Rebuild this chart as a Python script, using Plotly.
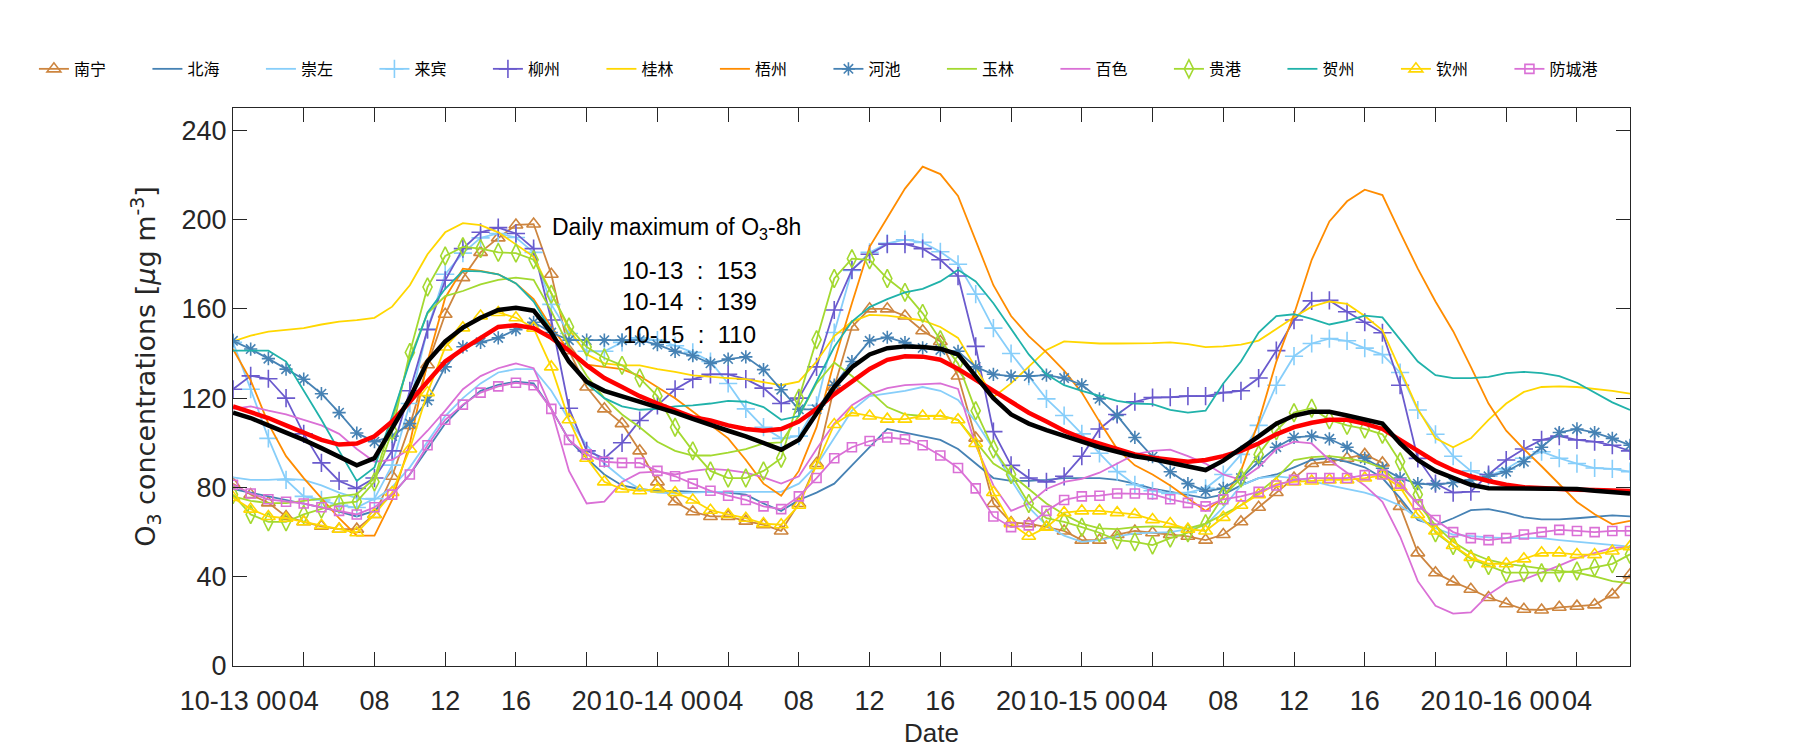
import plotly.graph_objects as go

# ---------------- data ----------------
hours = list(range(80))  # hourly steps starting 10-13 00
tick_hours = [0, 4, 8, 12, 16, 20, 24, 28, 32, 36, 40, 44, 48, 52, 56, 60, 64, 68, 72, 76]
tick_labels = ["10-13 00", "04", "08", "12", "16", "20",
               "10-14 00", "04", "08", "12", "16", "20",
               "10-15 00", "04", "08", "12", "16", "20",
               "10-16 00", "04"]

nanning = [81.7, 76.8, 73.1, 67, 64.6, 62.6, 61.3, 61.3, 67.9, 85, 107.8, 135, 157.6, 174,
           185.3, 191.8, 197.6, 198, 175.5, 141.3, 125, 115.2, 108.6, 96.4, 82.5, 73.6, 69.1,
           67, 67, 64.9, 63.3, 60.5, 72.8, 90.7, 125, 151.9, 160, 160, 156.8, 150.2,
           145.4, 129.9, 102.1, 72.8, 64.3, 63.8, 62.2, 60.5, 56.4, 56.4, 58.9, 60.5, 59.7,
           58.9, 58.1, 56.4, 58.9, 64.6, 71.1, 77.7, 84.2, 90.7, 91.5, 93.1, 94.8, 91,
           71.5, 50.7, 41.8, 37.7, 34.4, 30.7, 27.9, 25.4, 25.1, 26.3, 26.8, 27.4, 32, 40.9]
beihai = [79.3, 77.7, 76, 74.4, 72.8, 71.1, 69.2, 67, 69.5, 76.8, 85.8, 97.2, 108.6, 116.8,
          123.3, 126, 127.4, 126.6, 115.2, 101.3, 93.1, 85.8, 80.9, 79.3, 78.5, 78.5, 78,
          78, 77.7, 76.8, 72.8, 69.5, 74.4, 77.7, 81.7, 89.9, 98, 106.2, 104.6, 103,
          101.3, 97.2, 90.7, 84.2, 82.9, 82.9, 83.4, 84.2, 84.2, 84.2, 83.4, 81.7, 79.5,
          78, 76.8, 75.2, 76.8, 80.9, 84.2, 85.8, 89, 92.3, 93.1, 91.5, 89, 84.2,
          75.2, 65.4, 63, 66.2, 69.8, 70.3, 68.7, 66.6, 65.7, 65.7, 66.2, 67, 67.5, 67]
chongzuo = [84.5, 83.4, 83.4, 83.8, 83.4, 80.9, 77.7, 75.2, 74.4, 80.1, 89, 100.5, 112, 120,
            126.6, 131.5, 133, 133, 123.3, 110.3, 98.9, 90.7, 84.2, 79.3, 77.7, 77.3, 77.7,
            78, 78, 78, 78, 78, 81.7, 89.9, 102.1, 114.4, 120.9, 122, 123.3, 125,
            123.3, 119.2, 109.5, 97.2, 83.4, 71.1, 63, 58.4, 55.6, 56.4, 58.1, 59.4, 59.7,
            60, 61.3, 63, 71.1, 80.9, 84.2, 85, 84.2, 82.9, 80.9, 79.3, 77.7, 75.2,
            71.9, 66.2, 61.7, 58.9, 58.1, 57.6, 57.3, 57.3, 57.3, 56.4, 55.6, 54.8, 54, 53.5]
laibin = [145, 124, 102, 83.4, 76, 74.4, 72, 71, 75, 90, 117.6, 151, 175.5, 185,
          191.8, 193.8, 192, 185.3, 162, 149, 141, 141, 145, 147, 146, 143.5, 140.5,
          136.4, 126.6, 115.2, 107, 102, 103, 116.8, 149.4, 177.2, 185.3, 189.4, 191, 189.8,
          185.6, 180, 166.6, 151.4, 140, 129.9, 119.7, 112.2, 104, 95.3, 87.1, 81.2, 78.5,
          77.3, 77.7, 79.6, 85.8, 94.8, 107.8, 125.8, 138.8, 144.5, 146.7, 145.7, 142.4, 139.5,
          131.5, 114.7, 103.8, 94, 87.4, 85, 88.3, 93.1, 96, 93.1, 90.7, 88.7, 88.3, 87.1]
liuzhou = [124, 130, 128.7, 120, 104, 91, 82.9, 79.6, 84.2, 96.4, 123.3, 150.7, 172.8, 187,
           194.3, 196.4, 193.8, 187, 155, 115.5, 96.4, 93, 100, 110, 116.8, 124, 128.5,
           130.7, 130.7, 128.5, 124.5, 117.6, 120, 134, 159.5, 177.5, 184.5, 189, 189, 187,
           182, 174.7, 143.2, 105, 89.9, 84.2, 82.5, 85, 94, 106.2, 112.7, 118.4, 120.3,
           120.4, 120.9, 120.9, 122.5, 123.3, 129, 141.3, 155, 163.6, 163.8, 158.7, 154, 149.3,
           125.8, 93, 81.7, 77.7, 78.1, 85.8, 92.3, 97.2, 101.3, 103, 101.3, 100.5, 98.9, 96.4]
guilin = [145.4, 148, 149.8, 150.7, 151.4, 153, 154.3, 155, 156, 161, 170.6, 184.5, 194.3, 198.4,
          197.5, 194.3, 189, 183.4, 167, 151, 139.6, 135.6, 134.7, 134.7, 133, 131.8, 130.2,
          129.5, 129, 128.5, 127, 125.8, 127.4, 136.4, 147.8, 154.3, 157.3, 157, 156, 154.8,
          151.9, 147, 133.5, 120.4, 126.6, 134, 141.6, 145.4, 144.9, 144.5, 144.5, 144.5, 144.7,
          145, 144.2, 142.9, 143.2, 144, 145.8, 151, 156.3, 161, 163.3, 162.2, 156.8, 150.4,
          133, 115.2, 102, 98, 102, 110.3, 117.6, 122.8, 125, 125.3, 125, 124.1, 123.3, 122]
wuzhou = [142, 128, 108.6, 94, 84.2, 75.2, 66.2, 58.4, 58.4, 74.4, 99.7, 136.4, 165, 178,
          177, 175.5, 171.4, 164.4, 151.9, 141.3, 135, 134, 133, 129.9, 125, 120, 114,
          107.8, 102, 92.3, 81.7, 76.3, 87.4, 107, 136.4, 162.5, 187.8, 200.8, 213.9, 223.7,
          220.4, 210.6, 190.2, 170.6, 156.8, 147.8, 140.5, 132.3, 122.5, 109.5, 97.2, 89.9, 85.8,
          80.9, 75.2, 69.5, 75.2, 87.4, 109.5, 136.4, 157.6, 182, 199.2, 208.2, 213.4, 211,
          194.3, 178, 163.3, 150, 134, 117.6, 105.4, 97.2, 89.5, 81.5, 73.5, 68, 63.5, 65]
hechi = [145.7, 142, 137.7, 133, 128.5, 122, 113.5, 104.4, 100.5, 103, 108.6, 119, 134, 143,
         145, 147, 150.7, 154, 149.4, 146, 146, 146, 146, 146, 144, 141, 139,
         135.6, 137.5, 138.5, 132.8, 123.8, 115, 115, 125.8, 136.4, 145.7, 147.3, 144.9, 142.5,
         141.6, 141, 134, 130.7, 129.9, 129.9, 130.3, 129, 126, 119.7, 112.2, 102.4, 93.8,
         87, 81.7, 78.3, 79.6, 84.2, 91.5, 98, 102.4, 103, 101.8, 98, 93, 88.6,
         84.2, 81.7, 81.2, 82.2, 83.4, 85, 87, 91.5, 98, 104.6, 106.2, 104.6, 102, 98.9]
yulin = [76, 74, 73, 73, 74, 75, 76, 77, 84, 110, 138, 158, 165.7, 168,
         171, 173, 174, 173, 159, 143, 130, 120, 112.7, 107, 100.5, 96.4, 94.3,
         94.3, 95.6, 97.2, 99.7, 100.2, 112, 126.6, 136, 129.9, 123.3, 116, 112.7, 112,
         112.2, 110.3, 100.5, 90.7, 85.8, 79.3, 72.8, 67.9, 63.8, 61.7, 61.3, 62.2, 62.6,
         62.2, 61.7, 63.8, 67.9, 72, 77.7, 84.2, 92.3, 93.6, 94, 93.1, 91.5, 88.7,
         80.9, 72.8, 63, 55.6, 50.7, 47.5, 45.8, 44.7, 43.4, 42.6, 41.8, 40.1, 38, 37]
baise = [115.2, 116.3, 114.4, 112.7, 110.3, 107.8, 104, 97.2, 91.5, 92.3, 97.2, 105.4, 114.4, 124,
         129.9, 133.4, 135.6, 133.4, 115.2, 87.4, 72.8, 73.6, 82.5, 86.6, 87.1, 85.8, 87.4,
         88.3, 87.8, 86.6, 84.5, 81.7, 85, 97.2, 108.6, 116.8, 121.7, 124.5, 125.8, 126.3,
         126.6, 124.1, 98.9, 80.9, 69.5, 72.8, 79.3, 82.5, 83.8, 86.6, 90.7, 94.8, 96.4,
         96.9, 94, 90.7, 85.8, 83.4, 89, 97.2, 100.5, 99.7, 92.3, 86.6, 80.9, 73.6,
         58, 38, 27, 23.5, 24, 32, 37.2, 38.8, 41.8, 45, 48.3, 50.7, 52.9, 53.2]
guigang = [76.8, 67.9, 64.6, 64.6, 67.9, 70.3, 72.8, 73.6, 82.5, 105.4, 140.5, 169.8, 183.7, 187.8,
           187, 185.3, 185, 182, 166.6, 151.9, 142.9, 138, 134.7, 129, 120.9, 107, 96.4,
           87.4, 84.2, 84.2, 87.4, 93.1, 120, 146.2, 173.6, 182.5, 182, 173.6, 167.4, 158,
           146.2, 135.6, 114.4, 97.2, 85.8, 72.8, 66.2, 64.6, 62.2, 59.7, 56.4, 55.6, 54.2,
           57.3, 59.7, 63.8, 76, 84.2, 94.8, 105.4, 113.5, 115.5, 110.3, 107.8, 106.2, 103.8,
           91.5, 76.8, 59.7, 54, 48, 45, 41.8, 41.8, 41.8, 41.8, 42.6, 44.2, 45.8, 50]
hezhou = [141.3, 141.3, 141.3, 136.4, 123.3, 110.3, 96.4, 82.9, 89, 112, 136.4, 158.4, 169, 177,
          176.8, 175.5, 171.4, 163.3, 150.2, 136.4, 126.6, 120, 116.3, 114.8, 115.2, 116.3, 116.8,
          117.6, 118.8, 118.4, 116, 110.3, 112, 127.4, 142.9, 154.3, 160.8, 164.4, 167.4, 169,
          172.3, 177.5, 172.3, 162.5, 151, 139.6, 130.7, 125.8, 123.3, 120.9, 118.8, 117.6, 117.3,
          114.8, 113.5, 114.4, 126.6, 136.4, 149.4, 156.8, 157.6, 155.5, 153, 154.6, 157, 156.2,
          146.5, 136.4, 130.3, 129, 129, 129.5, 131.2, 131.8, 131.2, 129.9, 126.9, 122.5, 118.1, 114.7]
qinzhou = [75.5, 70.3, 67, 66.2, 64.6, 63, 61.3, 59.7, 67.9, 77.7, 97.2, 122.5, 142.9, 151.5,
           156.8, 158.4, 156, 151.4, 134, 110.3, 93.1, 82.5, 79.3, 78.5, 79.3, 77.7, 74.4,
           69.8, 67.9, 66.2, 63.8, 63.3, 72, 89.9, 108.2, 113.5, 112, 110.6, 110.6, 112,
           112, 110.3, 99.7, 77.7, 63.8, 58.1, 62.2, 68.7, 69.5, 69.5, 68.7, 67.9, 65.6,
           63.8, 61.3, 60.5, 66.6, 72, 76.8, 81.7, 82.5, 82.9, 83.4, 83.4, 84.2, 85.4,
           80.1, 67.9, 60.5, 54, 48.6, 45.8, 45.8, 48, 50.7, 50.7, 49.9, 49.9, 51.5, 53.5]
fangchenggang = [81.2, 77.3, 74.7, 73.6, 72.8, 71.1, 69.5, 67.9, 71.1, 76.8, 85.8, 98.9, 110.3, 117.1,
                 122.5, 125.3, 126.9, 125.8, 115.2, 101.3, 94.8, 91.5, 91, 91, 87.4, 85, 81.7,
                 78.5, 76.3, 74.4, 71.5, 70.3, 76, 84.2, 93.1, 98, 100.8, 102.4, 101.6, 98.9,
                 94.3, 88.7, 79.6, 67, 62.2, 63, 69.5, 74.4, 76, 76.3, 77.3, 77.3, 77,
                 74.7, 73.1, 71.5, 74.7, 76, 78, 80.9, 83.4, 84.2, 84.2, 84.2, 85.5, 85.8,
                 81.7, 72.4, 65.4, 60, 57.3, 56.4, 57.3, 58.9, 60, 61, 60.5, 60, 60.5, 60.5]
red_line = [116.3, 113.9, 111.1, 107.8, 104.6, 101.3, 99.2, 99.7, 102.9, 109.5, 118.4, 127.4, 136.4, 142,
            147, 151.9, 152.7, 151.4, 147, 141.3, 134.7, 129, 125, 120.9, 117.6, 114.4, 111.5,
            110, 107.8, 106.2, 105.4, 106.2, 109.5, 115.2, 121.7, 127.4, 133.1, 137.2, 138.8, 138.6,
            137.2, 133.1, 128.2, 123.3, 118.4, 113.5, 109.5, 105.4, 102.1, 99.7, 97.2, 94.8, 93.3,
            92.3, 91.5, 92.3, 94, 96.4, 99.7, 103.8, 107, 109, 110.3, 110.3, 108.6, 106.2,
            101.3, 95.9, 91.5, 87.8, 85, 82.9, 81.2, 80.1, 79.6, 79.3, 79, 78.8, 78.6, 78.4]
black_line = [113.5, 111.1, 107.8, 104.6, 101.3, 97.6, 94, 89.9, 93.1, 107, 120, 136.4, 145.4, 151.6,
              156, 159.5, 160.5, 159.2, 149.4, 136.4, 127.4, 123.3, 120.9, 118.4, 116, 113.5, 110.7,
              107.8, 105.4, 102.9, 99.7, 96.9, 101.3, 113.5, 125, 133.9, 139.6, 142.4, 143.2, 142.9,
              142.1, 139.6, 129.9, 120, 112.7, 108.6, 105.7, 102.9, 100.5, 98, 95.9, 94, 92.7,
              91, 89.4, 87.8, 92, 97.2, 102.9, 108.6, 112.2, 113.9, 113.9, 112.2, 110.3, 108.6,
              99.7, 92.3, 87.4, 84.2, 81.2, 79.6, 79.6, 79.6, 79.6, 79.6, 79.3, 78.5, 77.7, 77.3]

max_days = ["10-13", "10-14", "10-15"]
max_values = [153, 139, 110]

# ---------------- styles ----------------
city_series = [
    ("南宁", nanning, "#CD853F", "triangle-up-open", 12),
    ("北海", beihai, "#4682B4", None, 0),
    ("崇左", chongzuo, "#87CEFA", None, 0),
    ("来宾", laibin, "#87CEFA", "cross-thin-open", 13),
    ("柳州", liuzhou, "#6A5ACD", "cross-thin-open", 13),
    ("桂林", guilin, "#FFD700", None, 0),
    ("梧州", wuzhou, "#FF8C00", None, 0),
    ("河池", hechi, "#4682B4", "asterisk-open", 11),
    ("玉林", yulin, "#A3D930", None, 0),
    ("百色", baise, "#DA70D6", None, 0),
    ("贵港", guigang, "#A3D930", "diamond-tall-open", 13),
    ("贺州", hezhou, "#20B2AA", None, 0),
    ("钦州", qinzhou, "#FFD700", "triangle-up-open", 12),
    ("防城港", fangchenggang, "#DA70D6", "square-open", 9),
]

TXT = "#262626"
FONT = "Liberation Sans, Arial, sans-serif"

fig = go.Figure()
for name, vals, color, sym, size in city_series:
    if sym:
        fig.add_trace(go.Scatter(
            x=hours, y=vals, name=name, mode="lines+markers",
            line=dict(color=color, width=1.8),
            marker=dict(symbol=sym, size=size, color=color,
                        line=dict(color=color, width=1.6)),
        ))
    else:
        fig.add_trace(go.Scatter(
            x=hours, y=vals, name=name, mode="lines",
            line=dict(color=color, width=1.8),
        ))

fig.add_trace(go.Scatter(x=hours, y=red_line, mode="lines", showlegend=False,
                         line=dict(color="#FF0000", width=4.5)))
fig.add_trace(go.Scatter(x=hours, y=black_line, mode="lines", showlegend=False,
                         line=dict(color="#000000", width=4.5)))

axis_common = dict(
    showline=True, linecolor=TXT, linewidth=1.3, mirror="allticks",
    ticks="inside", ticklen=14, tickwidth=1.2, tickcolor=TXT,
    showgrid=False, zeroline=False,
    tickfont=dict(size=27, color=TXT, family=FONT),
)

fig.update_layout(
    width=1800, height=750,
    margin=dict(l=225, r=178, t=100, b=92, autoexpand=False),
    paper_bgcolor="white", plot_bgcolor="white",
    font=dict(family=FONT, color=TXT),
    xaxis=dict(range=[0, 79], tickmode="array", tickvals=tick_hours, ticktext=tick_labels,
               ticklabelstandoff=10,
               title=dict(text="Date", font=dict(size=26, color=TXT), standoff=9),
               **axis_common),
    yaxis=dict(range=[0, 250], tickmode="array", tickvals=[0, 40, 80, 120, 160, 200, 240],
               **axis_common),
    legend=dict(orientation="h", xref="paper", yref="paper",
                x=-0.1425, y=1.07, xanchor="left", yanchor="middle",
                entrywidth=68.5, entrywidthmode="pixels",
                font=dict(size=16, color="#000000",
                          family="Noto Sans CJK SC, Liberation Sans, sans-serif"),
                bgcolor="rgba(0,0,0,0)", itemclick=False),
    showlegend=True,
)

# y-axis title (placed slightly above centre as in the original)
fig.add_annotation(x=-0.0623, y=0.538, xref="paper", yref="paper",
                   text="O<sub>3</sub> concentrations [<i>μ</i>g m<sup>-3</sup>]",
                   textangle=-90, showarrow=False, xanchor="center", yanchor="middle",
                   font=dict(size=27, color=TXT,
                             family="DejaVu Sans, Liberation Sans, sans-serif"))

title_txt = "Daily maximum of O<sub>3</sub>-8h"
fig.add_annotation(x=25.1, y=196, xref="x", yref="y", text=title_txt, showarrow=False,
                   font=dict(size=23, color="#000000", family=FONT))
ys = [177.4, 163.5, 148.7]
for d, v, yy in zip(max_days, max_values, ys):
    fig.add_annotation(x=25.8, y=yy, xref="x", yref="y",
                       text=f"{d}\u00a0\u00a0:\u00a0\u00a0{v}", showarrow=False,
                       font=dict(size=24, color="#000000", family=FONT))

fig.write_html("out.html")
